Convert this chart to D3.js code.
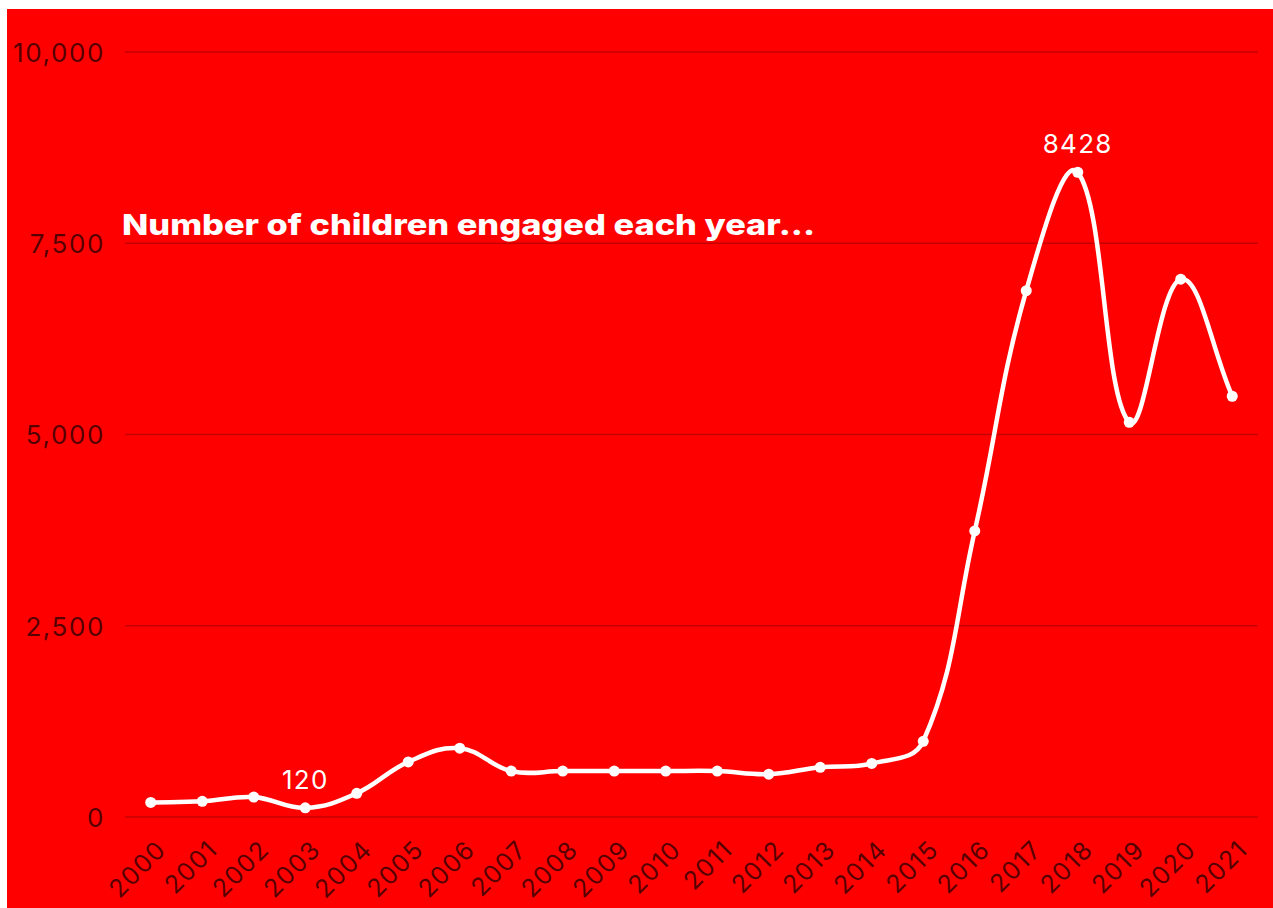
<!DOCTYPE html>
<html>
<head>
<meta charset="utf-8">
<script src="https://cdn.jsdelivr.net/npm/d3@7"></script>
<style>
  html, body { margin: 0; padding: 0; background: #ffffff; }
  svg { display: block; }
  text { font-family: Inter, "Noto Sans", sans-serif; }
</style>
</head>
<body>
<svg id="chart" width="1273" height="908"></svg>
<script>
// ---- data ----
const years = ["2000","2001","2002","2003","2004","2005","2006","2007","2008","2009","2010",
               "2011","2012","2013","2014","2015","2016","2017","2018","2019","2020","2021"];
const children = [190, 205, 260, 120, 310, 720, 900, 600, 600, 600, 600,
                  600, 560, 650, 700, 990, 3740, 6880, 8428, 5160, 7030, 5500];
const yTicks = [0, 2500, 5000, 7500, 10000];
const labelledYears = ["2003", "2018"];
const titleText = "Number of children engaged each year...";

// ---- layout ----
const W = 1273, H = 908;
const plot = { left: 125, right: 1258, top: 52, bottom: 817 };

const svg = d3.select("#chart");

svg.append("rect").attr("x", 7).attr("y", 9).attr("width", W - 7).attr("height", H - 9)
   .attr("fill", "#ff0000");

const x = d3.scalePoint().domain(years).range([plot.left, plot.right]).padding(0.5);
const y = d3.scaleLinear().domain([0, 10000]).range([plot.bottom, plot.top]);

// gridlines
svg.append("g").selectAll("line").data(yTicks).join("line")
   .attr("x1", plot.left).attr("x2", plot.right)
   .attr("y1", d => y(d)).attr("y2", d => y(d))
   .attr("stroke", "rgba(90,0,0,0.35)").attr("stroke-width", 1.3);

// y axis labels
const yAxis = d3.axisLeft(y).tickValues(yTicks).tickFormat(d3.format(",")).tickSize(0).tickPadding(0);
const gy = svg.append("g").attr("transform", `translate(105,0)`).call(yAxis);
gy.select(".domain").remove();
gy.selectAll("text").attr("fill", "rgba(40,0,0,0.8)").attr("font-size", 26)
  .attr("letter-spacing", 1.6)
  .attr("dy", "0.36em").attr("font-family", "Inter, 'Noto Sans', sans-serif");

// x axis labels
const xAxis = d3.axisBottom(x).tickSize(0).tickPadding(0);
const gx = svg.append("g").call(xAxis);
gx.select(".domain").remove();
gx.selectAll(".tick").attr("transform", d => `translate(${x(d) + 17},851)`);
gx.selectAll("text").attr("fill", "rgba(40,0,0,0.8)").attr("font-size", 25)
  .attr("letter-spacing", 1.4)
  .attr("y", 0).attr("dy", 0).attr("text-anchor", "end")
  .attr("transform", "rotate(-45)")
  .attr("font-family", "Inter, 'Noto Sans', sans-serif");

// Chart.js-like spline curve (tension 0.4)
function SplineCurve(context) { this._context = context; }
SplineCurve.prototype = {
  areaStart() {}, areaEnd() {},
  lineStart() { this._pts = []; },
  point(px, py) { this._pts.push([+px, +py]); },
  lineEnd() {
    const p = this._pts, c = this._context, t = 0.4, n = p.length;
    if (!n) return;
    const cpPrev = [], cpNext = [];
    for (let i = 0; i < n; i++) {
      const cur = p[i], prev = p[i - 1] || cur, next = p[i + 1] || cur;
      const d01 = Math.hypot(cur[0] - prev[0], cur[1] - prev[1]);
      const d12 = Math.hypot(next[0] - cur[0], next[1] - cur[1]);
      let s01 = d01 / (d01 + d12), s12 = d12 / (d01 + d12);
      if (isNaN(s01)) s01 = 0; if (isNaN(s12)) s12 = 0;
      const fa = t * s01, fb = t * s12;
      cpPrev.push([cur[0] - fa * (next[0] - prev[0]), cur[1] - fa * (next[1] - prev[1])]);
      cpNext.push([cur[0] + fb * (next[0] - prev[0]), cur[1] + fb * (next[1] - prev[1])]);
    }
    c.moveTo(p[0][0], p[0][1]);
    for (let i = 0; i < n - 1; i++) {
      c.bezierCurveTo(cpNext[i][0], cpNext[i][1], cpPrev[i + 1][0], cpPrev[i + 1][1], p[i + 1][0], p[i + 1][1]);
    }
  }
};

const data = years.map((yr, i) => ({ year: yr, value: children[i] }));

const line = d3.line().x(d => x(d.year)).y(d => y(d.value)).curve(ctx => new SplineCurve(ctx));

svg.append("path").datum(data).attr("d", line)
   .attr("fill", "none").attr("stroke", "#ffffff").attr("stroke-width", 4.5)
   .attr("stroke-linejoin", "round").attr("stroke-linecap", "round");

svg.append("g").selectAll("circle").data(data).join("circle")
   .attr("cx", d => x(d.year)).attr("cy", d => y(d.value)).attr("r", 5.5)
   .attr("fill", "#ffffff");

// data labels
svg.append("g").selectAll("text").data(data.filter(d => labelledYears.includes(d.year))).join("text")
   .attr("x", d => x(d.year)).attr("y", d => y(d.value) - 19)
   .attr("text-anchor", "middle").attr("fill", "#ffffff").attr("font-size", 26)
   .attr("letter-spacing", 1.3)
   .text(d => d.value);

// title
svg.append("text").attr("x", 122).attr("y", 235)
   .attr("fill", "#ffffff").attr("font-size", 29).attr("font-weight", 800)
   .attr("textLength", 693).attr("lengthAdjust", "spacingAndGlyphs")
   .text(titleText);
</script>
</body>
</html>
